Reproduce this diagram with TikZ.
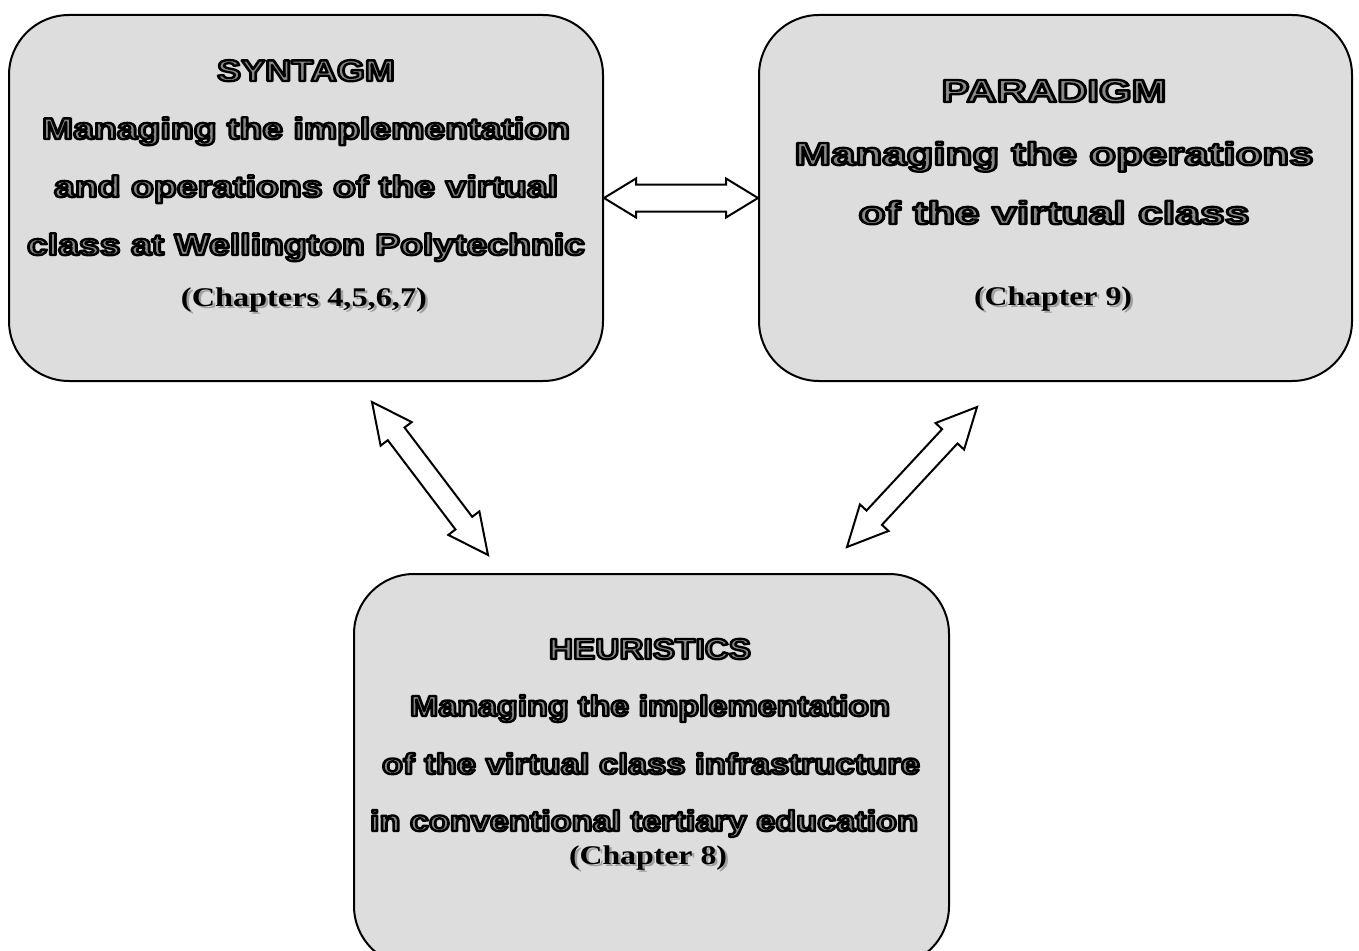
\documentclass[tikz,border=0pt]{standalone}
\usepackage{fontspec}
\usepackage{graphicx}
\usetikzlibrary{calc}

\newfontfamily\hfont{Liberation Sans}
\newfontfamily\cfont{Liberation Serif}

\definecolor{boxgray}{HTML}{DDDDDD}
\definecolor{inkgray}{HTML}{8A8A8A}
\definecolor{chapshade}{HTML}{A0A0A0}

% a zero-width layer shifted by (#1,#2)
\newcommand\lay[3]{\makebox[0pt][l]{\hspace*{#1}\raisebox{#2}{#3}}}
% glyphs filled with colour #1 and stroked with the PDF stroke colour #2
\newcommand\strokedtext[3]{{\color{#1}\special{pdf:literal direct #2 2 Tr 2.3 w 1 j}#3\special{pdf:literal direct 0 Tr}}}
% hollow lettering stretched to width #1: grey glyphs with a black outline
\newcommand\hollowline[2]{\leavevmode
  \resizebox{#1}{\height}{\strokedtext{inkgray}{0 G}{#2}}}
% serif line stretched to width #1 with a soft drop shadow
\newcommand\chapline[2]{\leavevmode
  \lay{2.5pt}{-2.5pt}{\resizebox{#1}{\height}{\color{chapshade}#2}}%
  \resizebox{#1}{\height}{\color{black}#2}}

% double-headed hollow arrow from #1 to #2:
% shaft half-width #3, head half-width #4, head length #5
\newcommand\dblarrow[5]{%
  \coordinate (da) at ($(#1)!#5!(#2)$);
  \coordinate (db) at ($(#2)!#5!(#1)$);
  \draw[hollowarrow] (#1) -- ($(da)!#4!90:(#2)$) -- ($(da)!#3!90:(#2)$)
    -- ($(db)!#3!-90:(#1)$) -- ($(db)!#4!-90:(#1)$) -- (#2)
    -- ($(db)!#4!90:(#1)$) -- ($(db)!#3!90:(#1)$)
    -- ($(da)!#3!-90:(#2)$) -- ($(da)!#4!-90:(#2)$) -- cycle;}

\tikzset{
  panel/.style={draw=black, line width=2pt, fill=boxgray, rounded corners=60pt,
    rectangle, inner sep=0pt},
  hollowarrow/.style={draw=black, line width=2pt, fill=white, line join=miter},
  txt/.style={inner sep=0pt, anchor=base},
}

\begin{document}
\begin{tikzpicture}[x=1pt, y=-1pt]
\useasboundingbox (0,0) rectangle (1359,950);
\clip (0,0) rectangle (1359,950);

% the three panels
\node[panel, minimum width=594pt, minimum height=366pt] (syn) at (306,198) {};
\node[panel, minimum width=593pt, minimum height=366pt] (par) at (1055.5,198) {};
\node[panel, minimum width=595pt, minimum height=392pt] (heu) at (651.5,770) {};

% SYNTAGM panel
\begin{scope}[every node/.append style={font=\hfont\bfseries\fontsize{30}{36}\selectfont}]
\node[txt] (syn-t) at (306,81)  {\hollowline{178pt}{SYNTAGM}};
\node[txt] (syn-1) at (306,139) {\hollowline{528pt}{Managing the implementation}};
\node[txt] (syn-2) at (306,197) {\hollowline{504pt}{and operations of the virtual}};
\node[txt] (syn-3) at (306,255) {\hollowline{558pt}{class at Wellington Polytechnic}};
\end{scope}
\node[txt, font=\cfont\bfseries\fontsize{27}{32}\selectfont] (syn-c) at (304,306)
  {\chapline{246pt}{(Chapters 4,5,6,7)}};

% PARADIGM panel
\begin{scope}[every node/.append style={font=\hfont\bfseries\fontsize{32}{38}\selectfont}]
\node[txt] (par-t) at (1054,102) {\hollowline{225pt}{PARADIGM}};
\node[txt] (par-1) at (1054,165) {\hollowline{519pt}{Managing the operations}};
\node[txt] (par-2) at (1054,224) {\hollowline{391pt}{of the virtual class}};
\end{scope}
\node[txt, font=\cfont\bfseries\fontsize{27}{32}\selectfont] (par-c) at (1053,305)
  {\chapline{158pt}{(Chapter 9)}};

% HEURISTICS panel
\begin{scope}[every node/.append style={font=\hfont\bfseries\fontsize{29}{34}\selectfont}]
\node[txt] (heu-t) at (650,659) {\hollowline{202pt}{HEURISTICS}};
\node[txt] (heu-1) at (650,716) {\hollowline{480pt}{Managing the implementation}};
\node[txt] (heu-2) at (651,774) {\hollowline{538pt}{of the virtual class infrastructure}};
\node[txt] (heu-3) at (644,831) {\hollowline{548pt}{in conventional tertiary education}};
\end{scope}
\node[txt, font=\cfont\bfseries\fontsize{27}{32}\selectfont] (heu-c) at (648,864)
  {\chapline{158pt}{(Chapter 8)}};

% links between the panels
\dblarrow{syn.east}{par.west}{13.5pt}{19.5pt}{32pt}
\coordinate (l1) at (372,402);
\coordinate (l2) at (488,555);
\dblarrow{l1}{l2}{10.5pt}{19.5pt}{40pt}
\coordinate (r1) at (977,407);
\coordinate (r2) at (847,547);
\dblarrow{r1}{r2}{10.5pt}{19.5pt}{40pt}
\end{tikzpicture}
\end{document}
